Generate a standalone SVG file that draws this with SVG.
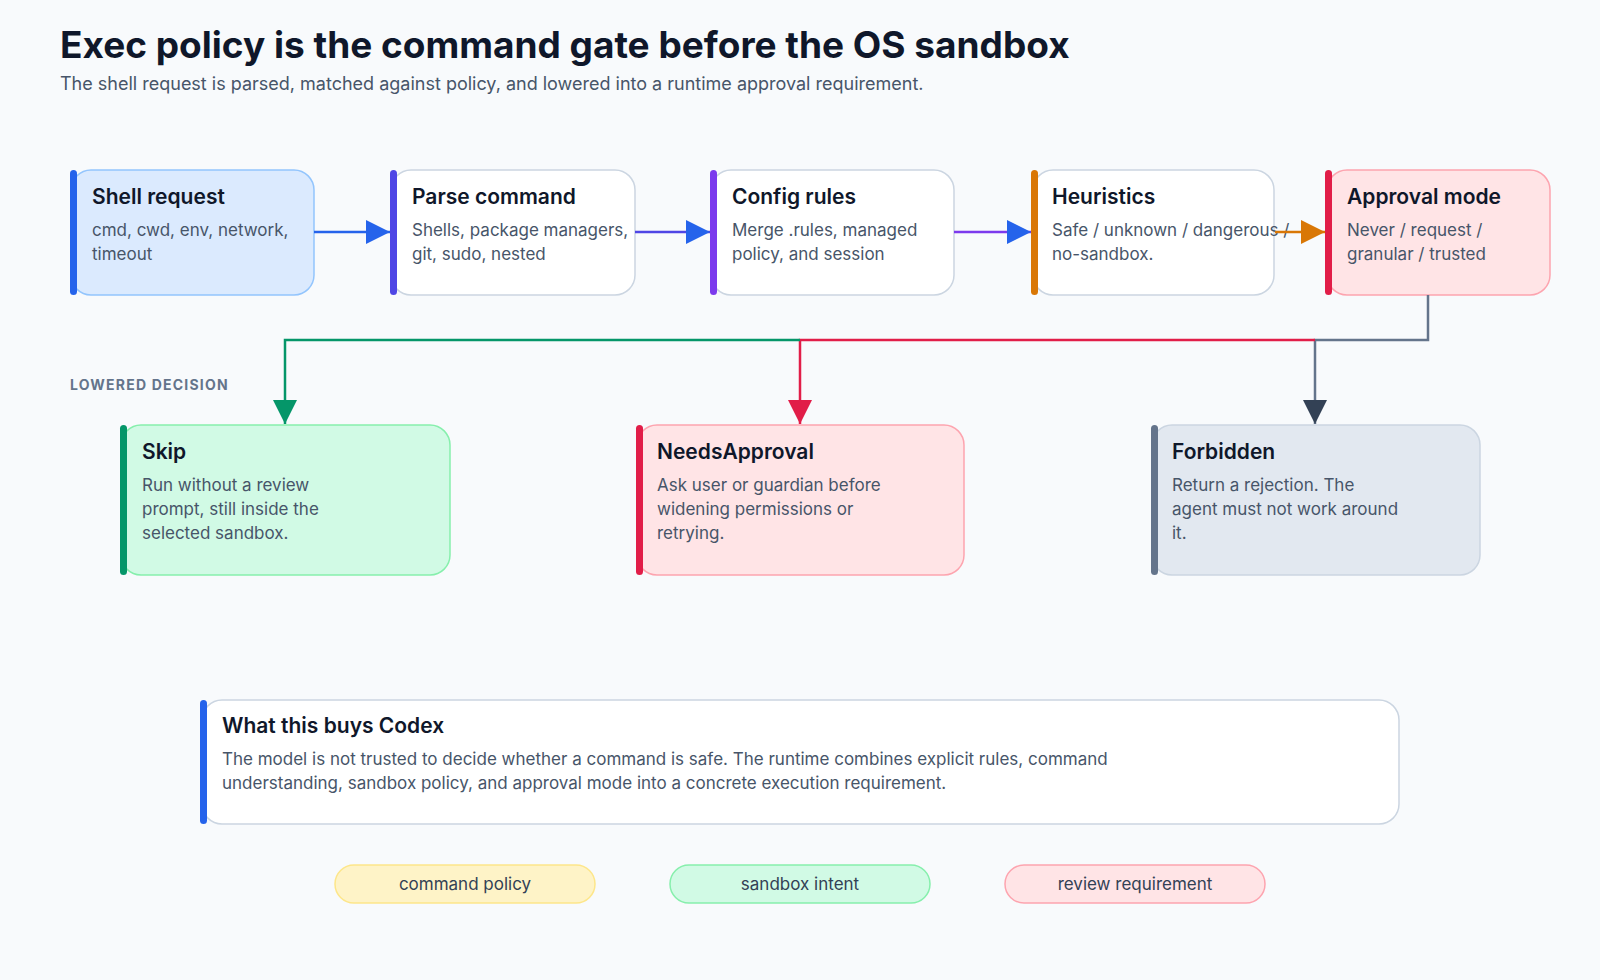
<svg xmlns="http://www.w3.org/2000/svg" width="1600" height="980" viewBox="0 0 1600 980">
<defs>
<style>
text{font-family:Inter,"Noto Sans","Liberation Sans",sans-serif}
.t{font-size:21px;font-weight:600;fill:#0f172a}
.b{font-size:17px;fill:#475569}
.pill{font-size:17px;fill:#334155;text-anchor:middle}
.w{fill:#fff;stroke:#cbd5e1;stroke-width:1.5}
</style>
<marker id="hb" viewBox="0 0 10 10" refX="10" refY="5" markerWidth="24" markerHeight="24" markerUnits="userSpaceOnUse" orient="auto"><path d="M0,0L10,5L0,10z" fill="#2563eb"/></marker>
<marker id="ho" viewBox="0 0 10 10" refX="10" refY="5" markerWidth="24" markerHeight="24" markerUnits="userSpaceOnUse" orient="auto"><path d="M0,0L10,5L0,10z" fill="#d97706"/></marker>
<marker id="hg" viewBox="0 0 10 10" refX="10" refY="5" markerWidth="24" markerHeight="24" markerUnits="userSpaceOnUse" orient="auto"><path d="M0,0L10,5L0,10z" fill="#059669"/></marker>
<marker id="hr" viewBox="0 0 10 10" refX="10" refY="5" markerWidth="24" markerHeight="24" markerUnits="userSpaceOnUse" orient="auto"><path d="M0,0L10,5L0,10z" fill="#e11d48"/></marker>
<marker id="hs" viewBox="0 0 10 10" refX="10" refY="5" markerWidth="24" markerHeight="24" markerUnits="userSpaceOnUse" orient="auto"><path d="M0,0L10,5L0,10z" fill="#334155"/></marker>
</defs>
<rect width="1600" height="980" fill="#f8fafc"/>
<text x="60" y="58" font-size="37" font-weight="700" fill="#0f172a">Exec policy is the command gate before the OS sandbox</text>
<text x="60" y="90" font-size="18" fill="#475569">The shell request is parsed, matched against policy, and lowered into a runtime approval requirement.</text>
<text x="70" y="390" font-size="14" font-weight="700" fill="#64748b" letter-spacing="1.2">LOWERED DECISION</text>

<g id="n-shell"><rect x="71" y="170" width="243" height="125" rx="20" fill="#dbeafe" stroke="#93c5fd" stroke-width="1.5"/><rect x="70" y="170" width="7" height="125" rx="3.5" fill="#2563eb"/>
<text x="92" y="204" class="t">Shell request</text><text x="92" y="236" class="b">cmd, cwd, env, network,</text><text x="92" y="260" class="b">timeout</text></g>
<g id="n-parse"><rect x="391" y="170" width="244" height="125" rx="20" class="w"/><rect x="390" y="170" width="7" height="125" rx="3.5" fill="#4f46e5"/>
<text x="412" y="204" class="t">Parse command</text><text x="412" y="236" class="b">Shells, package managers,</text><text x="412" y="260" class="b">git, sudo, nested</text></g>
<g id="n-config"><rect x="711" y="170" width="243" height="125" rx="20" class="w"/><rect x="710" y="170" width="7" height="125" rx="3.5" fill="#7c3aed"/>
<text x="732" y="204" class="t">Config rules</text><text x="732" y="236" class="b">Merge .rules, managed</text><text x="732" y="260" class="b">policy, and session</text></g>
<g id="n-heur"><rect x="1033" y="170" width="241" height="125" rx="20" class="w"/><rect x="1031" y="170" width="7" height="125" rx="3.5" fill="#d97706"/>
<text x="1052" y="204" class="t">Heuristics</text><text x="1052" y="236" class="b">Safe / unknown / dangerous /</text><text x="1052" y="260" class="b">no-sandbox.</text></g>
<g id="n-approval"><rect x="1327" y="170" width="223" height="125" rx="20" fill="#ffe4e6" stroke="#fda4af" stroke-width="1.5"/><rect x="1325" y="170" width="7" height="125" rx="3.5" fill="#e11d48"/>
<text x="1347" y="204" class="t">Approval mode</text><text x="1347" y="236" class="b">Never / request /</text><text x="1347" y="260" class="b">granular / trusted</text></g>

<g id="n-skip"><rect x="121" y="425" width="329" height="150" rx="20" fill="#d1fae5" stroke="#86efac" stroke-width="1.5"/><rect x="120" y="425" width="7" height="150" rx="3.5" fill="#059669"/>
<text x="142" y="459" class="t">Skip</text><text x="142" y="491" class="b">Run without a review</text><text x="142" y="515" class="b">prompt, still inside the</text><text x="142" y="539" class="b">selected sandbox.</text></g>
<g id="n-needs"><rect x="637" y="425" width="327" height="150" rx="20" fill="#ffe4e6" stroke="#fda4af" stroke-width="1.5"/><rect x="636" y="425" width="7" height="150" rx="3.5" fill="#e11d48"/>
<text x="657" y="459" class="t">NeedsApproval</text><text x="657" y="491" class="b">Ask user or guardian before</text><text x="657" y="515" class="b">widening permissions or</text><text x="657" y="539" class="b">retrying.</text></g>
<g id="n-forbidden"><rect x="1152" y="425" width="328" height="150" rx="20" fill="#e2e8f0" stroke="#cbd5e1" stroke-width="1.5"/><rect x="1151" y="425" width="7" height="150" rx="3.5" fill="#64748b"/>
<text x="1172" y="459" class="t">Forbidden</text><text x="1172" y="491" class="b">Return a rejection. The</text><text x="1172" y="515" class="b">agent must not work around</text><text x="1172" y="539" class="b">it.</text></g>

<g id="n-buys"><rect x="202" y="700" width="1197" height="124" rx="20" class="w"/><rect x="200" y="700" width="7" height="124" rx="3.5" fill="#2563eb"/>
<text x="222" y="733" class="t">What this buys Codex</text><text x="222" y="765" class="b">The model is not trusted to decide whether a command is safe. The runtime combines explicit rules, command</text><text x="222" y="789" class="b">understanding, sandbox policy, and approval mode into a concrete execution requirement.</text></g>

<g id="pills">
<rect x="335" y="865" width="260" height="38" rx="19" fill="#fef3c7" stroke="#fde68a" stroke-width="1.5"/><text x="465" y="890" class="pill">command policy</text>
<rect x="670" y="865" width="260" height="38" rx="19" fill="#d1fae5" stroke="#86efac" stroke-width="1.5"/><text x="800" y="890" class="pill">sandbox intent</text>
<rect x="1005" y="865" width="260" height="38" rx="19" fill="#ffe4e6" stroke="#fda4af" stroke-width="1.5"/><text x="1135" y="890" class="pill">review requirement</text>
</g>

<g id="connectors" fill="none" stroke-width="2.5">
<path d="M314,232H390" stroke="#2563eb" marker-end="url(#hb)"/>
<path d="M635,232H710" stroke="#4f46e5" marker-end="url(#hb)"/>
<path d="M954,232H1031" stroke="#7c3aed" marker-end="url(#hb)"/>
<path d="M1275,232H1325" stroke="#d97706" marker-end="url(#ho)"/>
<path d="M1428,295V340H1315V424" stroke="#64748b" marker-end="url(#hs)"/>
<path d="M1315,340H800V424" stroke="#e11d48" marker-end="url(#hr)"/>
<path d="M800,340H285V424" stroke="#059669" marker-end="url(#hg)"/>
</g>
</svg>
